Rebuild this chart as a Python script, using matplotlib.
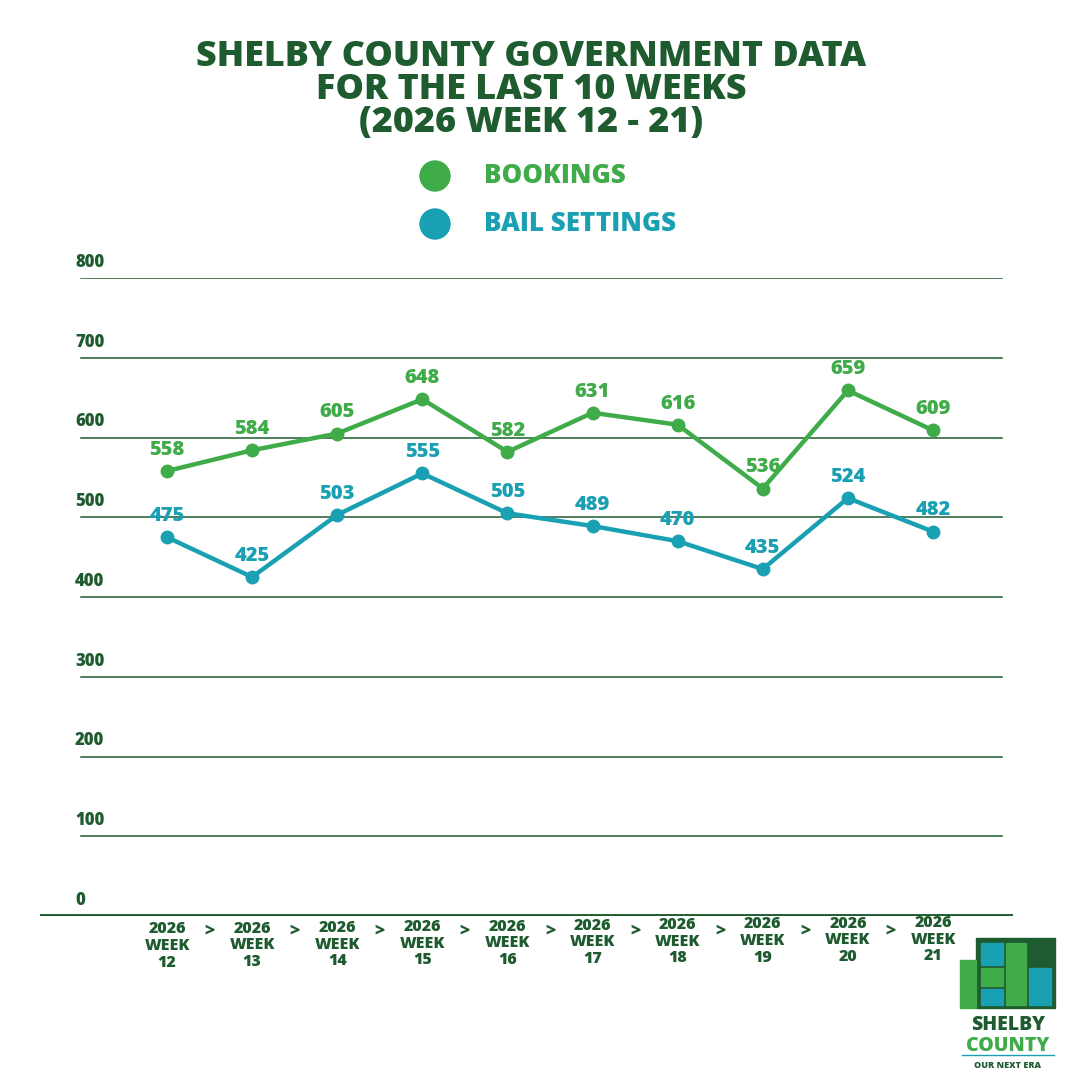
import numpy as np
from matplotlib import pyplot as plt
from matplotlib import transforms
from matplotlib.patches import Circle, Rectangle

# Data
weeks = ['12', '13', '14', '15', '16', '17', '18', '19', '20', '21']
bookings = [558, 584, 605, 648, 582, 631, 616, 536, 659, 609]
bail_settings = [475, 425, 503, 555, 505, 489, 470, 435, 524, 482]
y_ticks = [0, 100, 200, 300, 400, 500, 600, 700, 800]

DARK = '#1e5b2f'
GREEN = '#3fab49'
TEAL = '#1aa0b3'
FONT = ['Open Sans', 'DejaVu Sans']
plt.rcParams['font.stretch'] = 'normal'

W = H = 1080
fig = plt.figure(figsize=(10.8, 10.8), dpi=100)
fig.patch.set_facecolor('white')

def px(x, y):
    '''pixel coords -> figure fraction'''
    return x / W, 1 - y / H

# axes: left 40px, right 1013px, y=0 at 916px, y=800 at 278px
Y0, Y800 = 916, 278
ax = fig.add_axes([40 / W, 1 - Y0 / H, 973 / W, (Y0 - Y800) / H])
step = (933 - 167) / 9.0
ax.set_xlim(-(167 - 40) / step, 9 + (1013 - 933) / step)
ax.set_ylim(0, 800)
ax.axis('off')

# gridlines + tick labels
for v in y_ticks:
    if v > 0:
        ax.axhline(v, xmin=(81 - 40) / 973, xmax=(1002 - 40) / 973, color=DARK, lw=1.1, zorder=1)
    ax.text((75 - 40) / 973, v + 9, str(v), transform=ax.get_yaxis_transform(),
            ha='left', va='bottom', fontsize=12, fontweight='heavy', fontstretch='normal',
            color=DARK, family=FONT)
ax.axhline(0, color=DARK, lw=3.5, zorder=1)

x = np.arange(len(weeks))
ax.plot(x, bookings, color=GREEN, lw=3.2, marker='o', ms=9, zorder=3, clip_on=False)
ax.plot(x, bail_settings, color=TEAL, lw=3.2, marker='o', ms=9, zorder=3, clip_on=False)

for xi, b, s in zip(x, bookings, bail_settings):
    ax.annotate(str(b), (xi, b), xytext=(0, 8), textcoords='offset points', ha='center',
                va='bottom', fontsize=14.5, fontweight='heavy', fontstretch='normal',
                color=GREEN, family=FONT)
    ax.annotate(str(s), (xi, s), xytext=(0, 8), textcoords='offset points', ha='center',
                va='bottom', fontsize=14.5, fontweight='heavy', fontstretch='normal',
                color=TEAL, family=FONT)

# x labels with separators
trans = transforms.blended_transform_factory(ax.transData, fig.transFigure)
for i, w in enumerate(weeks):
    yc = 946 - i * 0.7
    ax.text(i, px(0, yc)[1], '2026\nWEEK\n' + w, transform=trans, ha='center', va='center',
            fontsize=11.5, fontweight='heavy', fontstretch='normal', color=DARK,
            linespacing=1.05, family=FONT)
    if i < len(weeks) - 1:
        ax.text(i + 0.5, px(0, 931)[1], '>', transform=trans, ha='center', va='center',
                fontsize=13, fontweight='heavy', color=DARK, family=FONT)

# title
fig.text(*px(531, 90), 'SHELBY COUNTY GOVERNMENT DATA\nFOR THE LAST 10 WEEKS\n(2026 WEEK 12 - 21)',
         ha='center', va='center', fontsize=25.8, fontweight='heavy', fontstretch='normal',
         color=DARK, linespacing=0.88, family=FONT)

# legend
for yy, label, col in [(176, 'BOOKINGS', GREEN), (224, 'BAIL SETTINGS', TEAL)]:
    fig.patches.append(Circle(px(435, yy), 15 / W, transform=fig.transFigure, color=col))
    fig.text(*px(484, yy), label, ha='left', va='center', fontsize=18.7,
             fontweight='heavy', fontstretch='normal', color=col, family=FONT)

# logo (simplified)
blocks = [(976, 938, 79, 70, DARK), (981, 943, 22, 22, TEAL), (981, 968, 22, 18, GREEN),
          (981, 989, 22, 16, TEAL), (1006, 943, 20, 62, GREEN), (1029, 943, 22, 22, DARK),
          (1029, 968, 22, 37, TEAL), (960, 960, 16, 48, GREEN)]
for bx, by, bw, bh, col in blocks:
    fig.patches.append(Rectangle(px(bx, by + bh), bw / W, bh / H, transform=fig.transFigure,
                                 color=col, zorder=5))
fig.text(*px(1008, 1025), 'SHELBY', ha='center', va='center', fontsize=14,
         fontweight='heavy', color=DARK, family=FONT)
fig.text(*px(1008, 1046), 'COUNTY', ha='center', va='center', fontsize=14,
         fontweight='heavy', color=GREEN, family=FONT)
fig.add_artist(plt.Line2D([962 / W, 1054 / W], [px(0, 1055)[1]] * 2, color=TEAL, lw=1))
fig.text(*px(1008, 1066), 'OUR NEXT ERA', ha='center', va='center', fontsize=6.5,
         fontweight='heavy', color=DARK, family=FONT)

plt.savefig('out.png', dpi=100, facecolor='white')
